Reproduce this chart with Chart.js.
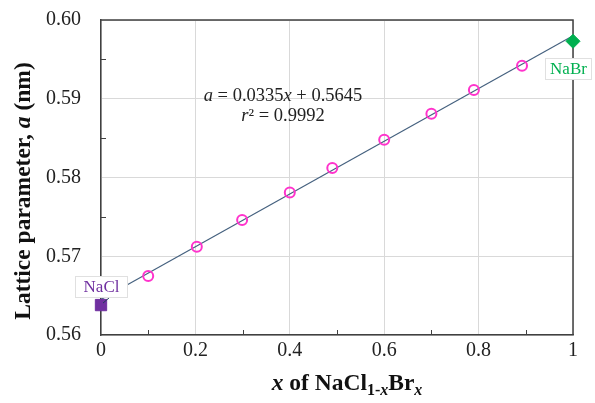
<!DOCTYPE html>
<html>
<head>
<meta charset="utf-8">
<script src="https://cdn.jsdelivr.net/npm/chart.js@4"></script>
<style>
  html, body { margin: 0; padding: 0; background: #fff; }
  #wrap { width: 595px; height: 403px; }
</style>
</head>
<body>
<div id="wrap"><canvas id="chart" width="595" height="403"></canvas></div>
<script>
// measured lattice parameters of NaCl(1-x)Br(x)
const solidX = [0.1, 0.203, 0.299, 0.40, 0.49, 0.60, 0.70, 0.79, 0.892];
const solidA = [0.5675, 0.5712, 0.5746, 0.5781, 0.5812, 0.5848, 0.5881, 0.5911, 0.5942];

// end members
const naclX = [0];
const naclA = [0.5638];
const nabrX = [1];
const nabrA = [0.5973];

// linear fit a = 0.0335x + 0.5645, endpoints
const fitX = [0, 1];
const fitA = [0.5645, 0.598];

const xTicks = [0, 0.2, 0.4, 0.6, 0.8, 1];
const yTicks = [0.56, 0.57, 0.58, 0.59, 0.60];

const serif = '"Liberation Serif", "Times New Roman", serif';
const pts = (xs, ys) => xs.map((x, i) => ({ x, y: ys[i] }));

// frame, minor ticks, titles, equation and end-member labels
const decor = {
  id: 'decor',
  beforeDatasetsDraw(chart) {
    const { ctx, chartArea: a, scales } = chart;
    const xs = scales.x, ys = scales.y;
    ctx.save();
    // top and right frame
    ctx.strokeStyle = '#404040';
    ctx.lineWidth = 1.5;
    ctx.beginPath();
    ctx.moveTo(a.left, a.top); ctx.lineTo(a.right, a.top); ctx.lineTo(a.right, a.bottom);
    ctx.stroke();
    // minor ticks, inward
    ctx.lineWidth = 1;
    ctx.beginPath();
    for (let v = 0.565; v < 0.6; v += 0.01) {
      const py = Math.round(ys.getPixelForValue(v)) + 0.5;
      ctx.moveTo(a.left, py); ctx.lineTo(a.left + 5, py);
    }
    for (let v = 0.1; v < 1; v += 0.2) {
      const px = Math.round(xs.getPixelForValue(v)) + 0.5;
      ctx.moveTo(px, a.bottom); ctx.lineTo(px, a.bottom - 5);
    }
    ctx.stroke();
    ctx.restore();
  },
  afterDraw(chart) {
    const { ctx, scales } = chart;
    const xs = scales.x, ys = scales.y;
    ctx.save();

    // NaCl label with leader
    const sq = { x: xs.getPixelForValue(naclX[0]), y: ys.getPixelForValue(naclA[0]) };
    ctx.strokeStyle = '#1f3a5a';
    ctx.lineWidth = 1;
    ctx.beginPath();
    ctx.moveTo(sq.x + 2, sq.y - 2); ctx.lineTo(sq.x + 9, sq.y - 8);
    ctx.stroke();
    drawTag(ctx, 'NaCl', 75, 276, 53, 22, '#7030a0');
    drawTag(ctx, 'NaBr', 545, 58, 47, 22, '#00b050');

    // equation
    ctx.fillStyle = '#222';
    drawRich(ctx, [['a', 'italic'], [' = 0.0335', ''], ['x', 'italic'], [' + 0.5645', '']], 283, 96, 18.5);
    drawRich(ctx, [['r', 'italic'], ['²', ''], [' = 0.9992', '']], 283, 116, 18.5);

    // y title
    ctx.save();
    ctx.fillStyle = '#111';
    ctx.translate(24, 191);
    ctx.rotate(-Math.PI / 2);
    drawRich(ctx, [['Lattice parameter, ', 'bold'], ['a', 'bold italic'], [' (nm)', 'bold']], 0, 0, 23.5);
    ctx.restore();

    // x title with subscripts
    drawXTitle(ctx, 347, 384);

    ctx.restore();
  }
};

function drawTag(ctx, text, x, y, w, h, color) {
  ctx.fillStyle = '#fff';
  ctx.fillRect(x, y, w, h);
  ctx.strokeStyle = '#e0e0e0';
  ctx.lineWidth = 1;
  ctx.strokeRect(x + 0.5, y + 0.5, w - 1, h - 1);
  ctx.fillStyle = color;
  ctx.font = '17px ' + serif;
  ctx.textAlign = 'center';
  ctx.textBaseline = 'middle';
  ctx.fillText(text, x + w / 2, y + h / 2 + 1);
}

function drawRich(ctx, parts, cx, cy, size) {
  let total = 0;
  parts.forEach(([t, s]) => { ctx.font = `${s} ${size}px ${serif}`; total += ctx.measureText(t).width; });
  let x = cx - total / 2;
  ctx.textAlign = 'left';
  ctx.textBaseline = 'middle';
  parts.forEach(([t, s]) => {
    ctx.font = `${s} ${size}px ${serif}`;
    ctx.fillText(t, x, cy);
    x += ctx.measureText(t).width;
  });
}

function drawXTitle(ctx, cx, cy) {
  const size = 23.5, sub = 16;
  const parts = [
    ['x', `bold italic ${size}px ${serif}`, 0],
    [' of NaCl', `bold ${size}px ${serif}`, 0],
    ['1-', `bold ${sub}px ${serif}`, 7],
    ['x', `bold italic ${sub}px ${serif}`, 7],
    ['Br', `bold ${size}px ${serif}`, 0],
    ['x', `bold italic ${sub}px ${serif}`, 7]
  ];
  let total = 0;
  parts.forEach(([t, f]) => { ctx.font = f; total += ctx.measureText(t).width; });
  let x = cx - total / 2;
  ctx.fillStyle = '#111';
  ctx.textAlign = 'left';
  ctx.textBaseline = 'middle';
  parts.forEach(([t, f, dy]) => {
    ctx.font = f;
    ctx.fillText(t, x, cy + dy);
    x += ctx.measureText(t).width;
  });
}

new Chart(document.getElementById('chart'), {
  type: 'scatter',
  data: {
    datasets: [
      {
        label: 'fit',
        data: pts(fitX, fitA),
        showLine: true,
        borderColor: '#45617f',
        borderWidth: 1.2,
        pointRadius: 0,
        clip: false,
        order: 3
      },
      {
        label: 'NaCl-NaBr',
        data: pts(solidX, solidA),
        pointStyle: 'circle',
        pointRadius: 5,
        borderColor: '#ff33cc',
        backgroundColor: 'rgba(255,255,255,0)',
        borderWidth: 2,
        clip: false,
        order: 1
      },
      {
        label: 'NaCl',
        data: pts(naclX, naclA),
        pointStyle: 'rect',
        pointRadius: 8,
        backgroundColor: '#7030a0',
        borderColor: '#7030a0',
        clip: false,
        order: 2
      },
      {
        label: 'NaBr',
        data: pts(nabrX, nabrA),
        pointStyle: 'rectRot',
        pointRadius: 7,
        backgroundColor: '#00b050',
        borderColor: '#00b050',
        clip: false,
        order: 2
      }
    ]
  },
  options: {
    responsive: false,
    animation: false,
    layout: { padding: { top: 20, right: 22, left: 0, bottom: 0 } },
    plugins: { legend: { display: false }, tooltip: { enabled: false } },
    scales: {
      x: {
        type: 'linear',
        min: 0,
        max: 1,
        afterBuildTicks: s => { s.ticks = xTicks.map(v => ({ value: v })); },
        afterFit: s => { s.height = 68; s.paddingLeft = 0; s.paddingRight = 0; },
        ticks: {
          color: '#222',
          font: { family: serif, size: 20 },
          padding: 4,
          maxRotation: 0,
          callback: v => String(v)
        },
        grid: { color: '#d9d9d9', drawTicks: false },
        border: { color: '#404040', width: 1.5 }
      },
      y: {
        min: 0.56,
        max: 0.60,
        afterBuildTicks: s => { s.ticks = yTicks.map(v => ({ value: v })); },
        afterFit: s => { s.width = 101; s.paddingTop = 0; s.paddingBottom = 0; },
        ticks: {
          color: '#222',
          font: { family: serif, size: 20 },
          padding: 20,
          callback: v => v.toFixed(2)
        },
        grid: { color: '#d9d9d9', drawTicks: false },
        border: { color: '#404040', width: 1.5 }
      }
    }
  },
  plugins: [decor]
});
</script>
</body>
</html>
